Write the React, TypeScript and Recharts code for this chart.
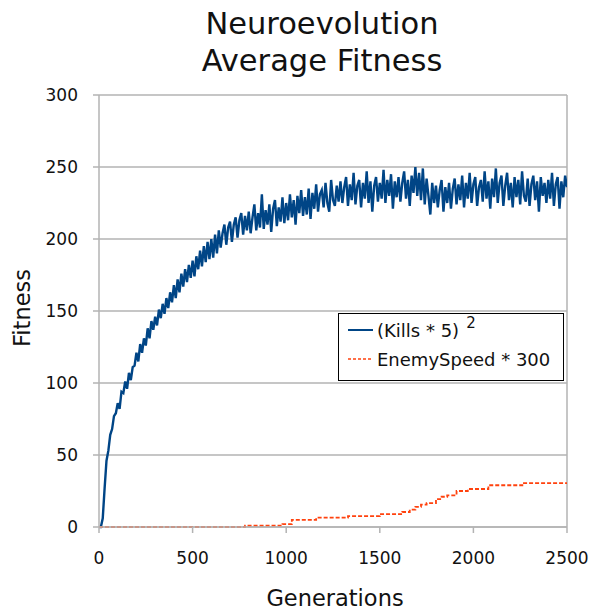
import React from 'react';
import { LineChart, Line, XAxis, YAxis, CartesianGrid, ReferenceLine } from 'recharts';

// (Kills * 5)^2, one reading every 10 generations
const killsGens = Array.from({ length: 251 }, (_, i) => i * 10);
const killsValues = [
  0, 0, 6, 27, 46, 53, 64, 68, 77, 79,
  86, 82, 94, 93, 101, 96, 107, 102, 111, 112,
  121, 115, 127, 121, 131, 126, 138, 131, 143, 137,
  146, 140, 151, 145, 155, 148, 159, 152, 163, 156,
  168, 159, 172, 163, 176, 167, 179, 170, 182, 173,
  185, 174, 188, 179, 192, 181, 195, 184, 198, 186,
  200, 187, 203, 190, 206, 194, 204, 210, 196, 208,
  212, 198, 210, 215, 201, 213, 218, 203, 216, 206,
  219, 204, 215, 224, 206, 218, 208, 231, 207, 220,
  210, 224, 205, 221, 227, 209, 222, 212, 229, 211,
  225, 213, 231, 215, 227, 210, 230, 218, 234, 216,
  229, 217, 235, 214, 232, 221, 238, 219, 231, 234,
  222, 239, 225, 219, 241, 227, 223, 237, 226, 240,
  225, 236, 243, 223, 238, 227, 246, 224, 237, 241,
  222, 239, 228, 247, 225, 240, 219, 237, 243, 226,
  239, 228, 248, 225, 241, 230, 245, 221, 240, 229,
  243, 226, 239, 247, 228, 241, 223, 244, 232, 250,
  230, 246, 227, 249, 224, 242, 230, 217, 239, 225,
  237, 222, 234, 241, 219, 236, 225, 239, 221, 235,
  242, 224, 238, 227, 244, 222, 239, 228, 246, 225,
  238, 243, 223, 236, 241, 226, 247, 228, 240, 221,
  242, 229, 249, 225, 239, 244, 223, 237, 246, 227,
  239, 222, 243, 229, 241, 224, 247, 230, 226, 242,
  223, 238, 244, 227, 240, 219, 243, 230, 239, 225,
  241, 228, 246, 223, 238, 243, 221, 240, 229, 244,
  236,
];

// EnemySpeed * 300, step changes
const speedGens = [0, 780, 980, 1030, 1160, 1330, 1500, 1620, 1660, 1690, 1720, 1750, 1800, 1830, 1860, 1910, 1970, 2080, 2270, 2500];
const speedValues = [0, 1, 2, 5, 6.5, 7.6, 9, 10.4, 12, 14, 15.5, 16.6, 19.4, 21, 22, 25, 26.4, 29, 30.5, 30.5];

const xTicks = [0, 500, 1000, 1500, 2000, 2500];
const yTicks = [0, 50, 100, 150, 200, 250, 300];

const killsData = killsGens.map((g, i) => ({ gen: g, v: killsValues[i] }));
const speedData = speedGens.map((g, i) => ({ gen: g, v: speedValues[i] }));

const FONT = '"DejaVu Sans", sans-serif';
const GRID = '#b3b3b3';

function LegendBox() {
  return (
    <div style={{ position: 'absolute', left: 338, top: 313, width: 226, height: 68, border: '1.5px solid #000', background: '#fff', fontSize: 18, color: '#111', boxSizing: 'border-box' }}>
      <div style={{ display: 'flex', alignItems: 'center', height: 28, marginTop: 2 }}>
        <svg width={26} height={10} style={{ marginLeft: 9 }}>
          <line x1={0} y1={5} x2={25} y2={5} stroke="#004586" strokeWidth={2} />
        </svg>
        <span style={{ marginLeft: 3 }}>(Kills * 5)</span>
        <span style={{ fontSize: 15, position: 'relative', top: -7, marginLeft: 7 }}>2</span>
      </div>
      <div style={{ display: 'flex', alignItems: 'center', height: 30 }}>
        <svg width={26} height={10} style={{ marginLeft: 9 }}>
          <line x1={0} y1={5} x2={25} y2={5} stroke="#ff420e" strokeWidth={1.5} strokeDasharray="3 2" />
        </svg>
        <span style={{ marginLeft: 3 }}>EnemySpeed * 300</span>
      </div>
    </div>
  );
}

export default function App() {
  return (
    <div style={{ position: 'absolute', left: 0, top: 0, width: 590, height: 610, background: '#fff', fontFamily: FONT }}>
      <div style={{ position: 'absolute', left: 122, top: 5, width: 400, textAlign: 'center', fontSize: 30.5, lineHeight: '37px', color: '#111' }}>
        Neuroevolution<br />Average Fitness
      </div>
      <div style={{ position: 'absolute', left: 22, top: 308, transform: 'translate(-50%, -50%) rotate(-90deg)', fontSize: 22.5, color: '#111', whiteSpace: 'nowrap' }}>
        Fitness
      </div>
      <div style={{ position: 'absolute', left: 335, top: 598, transform: 'translate(-50%, -50%)', fontSize: 22.5, color: '#111', whiteSpace: 'nowrap' }}>
        Generations
      </div>
      <LineChart width={590} height={610} margin={{ top: 95, right: 23, left: 49, bottom: 53 }} style={{ position: 'absolute', left: 0, top: 0 }}>
        <CartesianGrid vertical={false} stroke={GRID} strokeWidth={1.5} />
        <XAxis
          type="number"
          dataKey="gen"
          domain={[0, 2500]}
          ticks={xTicks}
          height={30}
          stroke={GRID}
          strokeWidth={1.5}
          tickSize={6}
          tickMargin={19}
          tick={{ fill: '#111', fontSize: 17, fontFamily: FONT }}
          allowDataOverflow
        />
        <YAxis
          type="number"
          domain={[0, 300]}
          ticks={yTicks}
          width={50}
          stroke={GRID}
          strokeWidth={1.5}
          tickSize={6}
          tickMargin={15}
          tick={{ fill: '#111', fontSize: 17, fontFamily: FONT }}
        />
        <ReferenceLine x={2500} stroke={GRID} strokeWidth={1.5} />
        <Line data={killsData} dataKey="v" type="linear" stroke="#004586" strokeWidth={2.4} dot={false} isAnimationActive={false} />
        <Line data={speedData} dataKey="v" type="stepAfter" stroke="#ff420e" strokeWidth={1.8} strokeDasharray="4 2" dot={false} isAnimationActive={false} />
      </LineChart>
      <LegendBox />
    </div>
  );
}
